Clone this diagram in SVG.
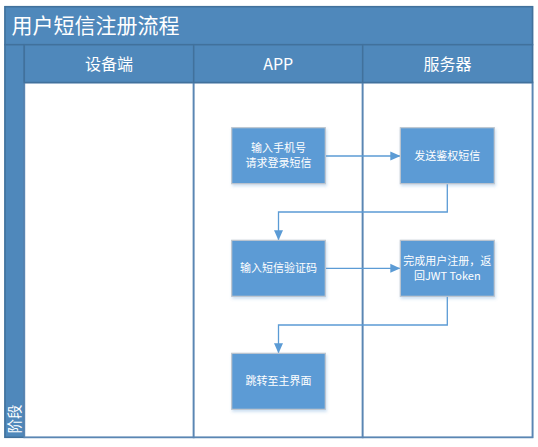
<svg xmlns="http://www.w3.org/2000/svg" width="538" height="447" viewBox="0 0 538 447">
<style>
.hdr{fill:#4F88BB;stroke:#41719C;stroke-width:1.5}
.lane{fill:#FFFFFF;stroke:#5A86B3;stroke-width:1.8}
.ttl{font-family:"Noto Sans CJK SC","Liberation Sans",sans-serif;fill:#FFFFFF}
.box{fill:#5B9BD5;stroke:#BFC6CE;stroke-width:1.2;filter:url(#sh)}
.bt{font-family:"Noto Sans CJK SC","Liberation Sans",sans-serif;font-size:11px;fill:#FFFFFF;text-anchor:middle}
.cn{fill:none;stroke:#5B9BD5;stroke-width:1.3}
</style>
<defs>
<filter id="sh" x="-20%" y="-20%" width="150%" height="160%">
<feDropShadow dx="1" dy="2" stdDeviation="1.5" flood-color="#5B9BD5" flood-opacity="0.3"/>
</filter>
<marker id="ah" markerUnits="userSpaceOnUse" markerWidth="10" markerHeight="10" viewBox="0 0 10 10" refX="10" refY="5" orient="auto">
<path d="M0,0.5 L10,5 L0,9.5 Z" fill="#5B9BD5"/>
</marker>
</defs>
<g id="pool">
<rect x="5" y="6.7" width="527.5" height="430.6" fill="#FFFFFF" stroke="#5A86B3" stroke-width="1.5"/>
<rect class="hdr" x="5" y="6.7" width="527.5" height="38"/>
<text class="ttl" x="11.5" y="32.5" font-size="21">用户短信注册流程</text>
</g>
<g id="stage">
<rect class="hdr" x="5" y="44.7" width="19.3" height="392.6"/>
<text class="ttl" font-size="14.5" transform="translate(20,419) rotate(-90)" text-anchor="middle">阶段</text>
</g>
<g id="lane-device">
<rect class="lane" x="24.3" y="82.5" width="169.4" height="354.8"/>
<rect class="hdr" x="24.3" y="44.7" width="169.4" height="37.8"/>
<text class="ttl" x="109" y="69.5" font-size="16" text-anchor="middle">设备端</text>
</g>
<g id="lane-app">
<rect class="lane" x="193.7" y="82.5" width="169" height="354.8"/>
<rect class="hdr" x="193.7" y="44.7" width="169" height="37.8"/>
<text class="ttl" x="278.2" y="69.5" font-size="16" text-anchor="middle">APP</text>
</g>
<g id="lane-server">
<rect class="lane" x="362.7" y="82.5" width="169.8" height="354.8"/>
<rect class="hdr" x="362.7" y="44.7" width="169.8" height="37.8"/>
<text class="ttl" x="447.6" y="69.5" font-size="16" text-anchor="middle">服务器</text>
</g>
<g id="connectors">
<path class="cn" d="M325.3,156 H400.3" marker-end="url(#ah)"/>
<path class="cn" d="M447.3,184 V212 H278.5 V240.3" marker-end="url(#ah)"/>
<path class="cn" d="M325.3,268.3 H400.3" marker-end="url(#ah)"/>
<path class="cn" d="M447.3,296 V325 H278.5 V353.3" marker-end="url(#ah)"/>
</g>
<g id="n1">
<rect class="box" x="231.7" y="127.7" width="93.6" height="56"/>
<text class="bt" x="278.5" y="152">输入手机号</text>
<text class="bt" x="278.5" y="166.5">请求登录短信</text>
</g>
<g id="n2">
<rect class="box" x="400.3" y="127.7" width="94" height="56"/>
<text class="bt" x="447.3" y="159.8">发送鉴权短信</text>
</g>
<g id="n3">
<rect class="box" x="231.7" y="240.3" width="93.6" height="56"/>
<text class="bt" x="278.5" y="272.2">输入短信验证码</text>
</g>
<g id="n4">
<rect class="box" x="400.3" y="240.3" width="94" height="56"/>
<text class="bt" x="447.3" y="265">完成用户注册，返</text>
<text class="bt" x="447.3" y="279.5">回JWT Token</text>
</g>
<g id="n5">
<rect class="box" x="231.7" y="353.3" width="93.6" height="56"/>
<text class="bt" x="278.5" y="385.2">跳转至主界面</text>
</g>
</svg>
